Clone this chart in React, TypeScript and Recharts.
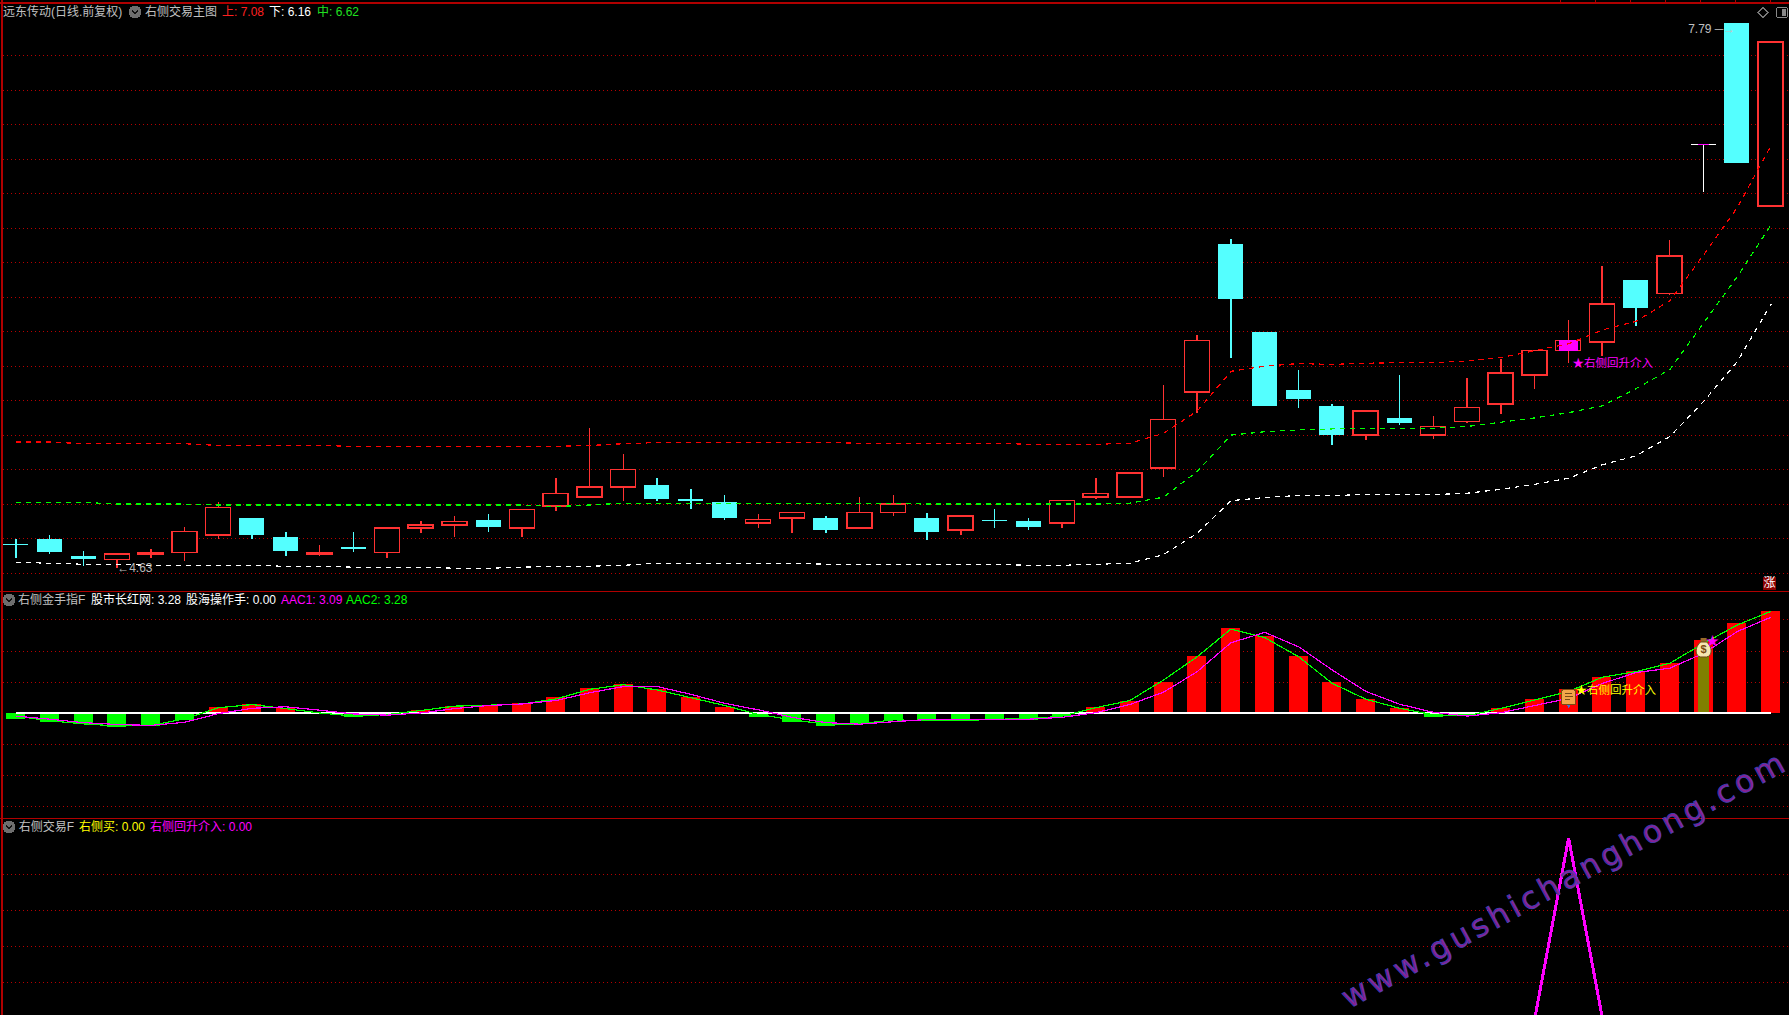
import {
  Bar,
  CartesianGrid,
  Cell,
  ComposedChart,
  Line,
  ReferenceDot,
  ReferenceLine,
  XAxis,
  YAxis,
} from "recharts";

// daily candles
const opens = [4.77, 4.8, 4.7, 4.68, 4.71, 4.72, 4.82, 4.92, 4.81, 4.71, 4.75, 4.72, 4.86, 4.88, 4.91, 4.86, 4.99, 5.04, 5.1, 5.11, 5.03, 5.01, 4.89, 4.92, 4.92, 4.86, 4.95, 4.92, 4.85, 4.91, 4.9, 4.89, 5.04, 5.04, 5.21, 5.65, 6.51, 6.0, 5.66, 5.57, 5.4, 5.5, 5.4, 5.48, 5.58, 5.75, 5.89, 5.94, 6.3, 6.22, 7.08, 7.79, 6.73];
const highs = [4.8, 4.82, 4.73, 4.71, 4.74, 4.87, 5.01, 4.92, 4.84, 4.76, 4.84, 4.87, 4.9, 4.93, 4.94, 4.97, 5.15, 5.44, 5.29, 5.15, 5.09, 5.05, 4.94, 4.95, 4.93, 5.04, 5.05, 4.95, 4.93, 4.97, 4.92, 5.02, 5.15, 5.18, 5.69, 5.98, 6.54, 6.0, 5.78, 5.58, 5.54, 5.75, 5.51, 5.73, 5.84, 5.89, 6.07, 6.38, 6.3, 6.53, 7.08, 7.79, 7.68];
const lows = [4.69, 4.71, 4.64, 4.63, 4.69, 4.67, 4.8, 4.8, 4.7, 4.7, 4.72, 4.69, 4.83, 4.81, 4.84, 4.81, 4.96, 5.04, 5.02, 5.02, 4.97, 4.91, 4.86, 4.83, 4.83, 4.86, 4.93, 4.79, 4.82, 4.86, 4.85, 4.86, 5.03, 5.04, 5.16, 5.53, 5.85, 5.57, 5.56, 5.34, 5.37, 5.46, 5.38, 5.47, 5.52, 5.67, 5.82, 5.86, 6.03, 6.21, 6.81, 6.98, 6.73];
const closes = [4.76, 4.72, 4.68, 4.71, 4.72, 4.84, 4.98, 4.82, 4.73, 4.72, 4.74, 4.86, 4.88, 4.9, 4.87, 4.97, 5.06, 5.1, 5.2, 5.03, 5.02, 4.92, 4.91, 4.95, 4.85, 4.95, 5.0, 4.84, 4.93, 4.9, 4.87, 5.02, 5.06, 5.18, 5.49, 5.95, 6.19, 5.57, 5.61, 5.4, 5.54, 5.47, 5.45, 5.56, 5.76, 5.89, 5.95, 6.16, 6.14, 6.44, 7.08, 6.98, 7.68];

// 上 / 中 / 下 channel
const upper = [5.36, 5.36, 5.35, 5.35, 5.35, 5.35, 5.34, 5.34, 5.34, 5.34, 5.335, 5.335, 5.335, 5.335, 5.335, 5.335, 5.335, 5.34, 5.35, 5.357, 5.357, 5.357, 5.357, 5.357, 5.357, 5.353, 5.353, 5.353, 5.353, 5.353, 5.347, 5.347, 5.347, 5.353, 5.41, 5.54, 5.77, 5.8, 5.815, 5.81, 5.817, 5.82, 5.82, 5.83, 5.85, 5.89, 5.93, 6.01, 6.06, 6.18, 6.445, 6.72, 7.08];
const middle = [5.01, 5.01, 5.01, 5.0, 5.0, 5.0, 4.995, 4.995, 4.995, 4.995, 4.995, 4.995, 4.995, 4.995, 4.995, 4.995, 4.985, 4.995, 5.005, 5.005, 5.005, 5.005, 5.005, 5.005, 5.005, 5.005, 5.005, 5.0, 5.0, 5.0, 5.0, 5.0, 5.0, 5.005, 5.04, 5.19, 5.4, 5.42, 5.43, 5.436, 5.438, 5.438, 5.44, 5.45, 5.475, 5.5, 5.53, 5.57, 5.67, 5.78, 6.05, 6.32, 6.62];
const lower = [4.663, 4.657, 4.651, 4.651, 4.645, 4.645, 4.645, 4.645, 4.639, 4.639, 4.634, 4.634, 4.634, 4.628, 4.628, 4.634, 4.64, 4.64, 4.645, 4.657, 4.657, 4.657, 4.657, 4.657, 4.651, 4.651, 4.651, 4.651, 4.651, 4.651, 4.645, 4.645, 4.651, 4.657, 4.707, 4.831, 5.02, 5.038, 5.05, 5.05, 5.055, 5.055, 5.055, 5.063, 5.086, 5.115, 5.15, 5.228, 5.28, 5.392, 5.595, 5.827, 6.16];

// 右侧金手指F
const histogram = [-0.17, -0.27, -0.35, -0.44, -0.4, -0.21, 0.2, 0.3, 0.17, -0.03, -0.12, -0.05, 0.1, 0.22, 0.26, 0.33, 0.52, 0.81, 0.94, 0.78, 0.53, 0.2, -0.12, -0.28, -0.4, -0.34, -0.21, -0.24, -0.25, -0.21, -0.21, -0.1, 0.2, 0.41, 1.01, 1.84, 2.74, 2.47, 1.84, 1.01, 0.46, 0.18, -0.12, -0.08, 0.16, 0.46, 0.77, 1.16, 1.35, 1.61, 2.36, 2.9, 3.28];
const aac1 = [-0.09, -0.19, -0.3, -0.36, -0.39, -0.29, -0.01, 0.16, 0.21, 0.1, -0.02, -0.06, 0.01, 0.15, 0.25, 0.3, 0.41, 0.66, 0.86, 0.86, 0.61, 0.32, 0.11, -0.13, -0.3, -0.35, -0.27, -0.2, -0.2, -0.2, -0.19, -0.13, 0.02, 0.28, 0.68, 1.34, 2.27, 2.6, 2.14, 1.39, 0.7, 0.29, 0.03, -0.09, 0.02, 0.25, 0.48, 0.96, 1.31, 1.45, 1.93, 2.63, 3.09];
const aac2 = [-0.09, -0.24, -0.34, -0.41, -0.39, -0.18, 0.18, 0.28, 0.15, 0.01, -0.09, -0.04, 0.09, 0.23, 0.26, 0.3, 0.46, 0.77, 0.92, 0.75, 0.5, 0.25, -0.04, -0.21, -0.35, -0.34, -0.21, -0.24, -0.24, -0.19, -0.18, -0.09, 0.18, 0.41, 1.07, 1.82, 2.71, 2.43, 1.82, 0.96, 0.45, 0.16, -0.05, -0.08, 0.16, 0.43, 0.7, 1.16, 1.34, 1.61, 2.25, 2.84, 3.28];

// 右侧交易F, all zero except the one signal day
const rightEntry = [0, 0, 0, 0, 0, 0, 0, 0, 0, 0, 0, 0, 0, 0, 0, 0, 0, 0, 0, 0, 0, 0, 0, 0, 0, 0, 0, 0, 0, 0, 0, 0, 0, 0, 0, 0, 0, 0, 0, 0, 0, 0, 0, 0, 0, 0, 5, 0, 0, 0, 0, 0, 0];
const rightBuy = [0, 0, 0, 0, 0, 0, 0, 0, 0, 0, 0, 0, 0, 0, 0, 0, 0, 0, 0, 0, 0, 0, 0, 0, 0, 0, 0, 0, 0, 0, 0, 0, 0, 0, 0, 0, 0, 0, 0, 0, 0, 0, 0, 0, 0, 0, 0, 0, 0, 0, 0, 0, 0];

const SIGNAL_DAY = 46;
const BUY_DAY = 50;
const BUY_BAR = 1.87;

const priceGrid = [7.6, 7.4, 7.2, 7.0, 6.8, 6.6, 6.4, 6.2, 6.0, 5.8, 5.6, 5.4, 5.2, 5.0, 4.8, 4.6];
const oscGrid = [3, 2, 1, -1, -2, -3];
const tradeGrid = [4, 3, 2, 1];

const candles = opens.map((open, i) => ({
  i,
  open,
  high: highs[i],
  low: lows[i],
  close: closes[i],
  upper: upper[i],
  middle: middle[i],
  lower: lower[i],
}));
const oscRows = histogram.map((value, i) => ({
  i,
  value,
  aac1: aac1[i],
  aac2: aac2[i],
  buy: i === BUY_DAY ? BUY_BAR : null,
}));
const tradeRows = rightEntry.map((entry, i) => ({ i, entry, buy: rightBuy[i] }));

const RED = "#ff3232";
const CYAN = "#54ffff";
const GRID = "#b80000";
const FRAME = "#b00000";
const FONT = '"Liberation Sans", "Noto Sans CJK SC", sans-serif';

const W = 1789;
const OFFSET = -1.4;
const margin = { top: 0, right: 0, bottom: 0, left: 0 };

function candleColor(d: { open: number; close: number }) {
  if (d.close > d.open) return RED;
  if (d.close < d.open) return CYAN;
  return "#ffffff";
}

function Chevron({ x, y }: { x: number; y: number }) {
  return (
    <svg width={14} height={14} style={{ position: "absolute", left: x - 7, top: y - 7 }}>
      <circle cx={7} cy={7} r={6.5} fill="#6e6e6e" />
      <path d="M4 5.5 L7 8.5 L10 5.5" fill="none" stroke="#111" strokeWidth={1.6} />
    </svg>
  );
}

function Txt({ x, y, color, size = 12, children }: { x: number; y: number; color: string; size?: number; children: string }) {
  return (
    <span
      style={{
        position: "absolute",
        left: x,
        top: y - 8,
        height: 16,
        lineHeight: "16px",
        fontSize: size,
        color,
        whiteSpace: "nowrap",
      }}
    >
      {children}
    </span>
  );
}

function ScrollIcon({ cx, cy }: { cx?: number; cy?: number }) {
  return (
    <g transform={`translate(${cx},${cy})`}>
      <path d="M-3 6 L0 10 L3 6 Z" fill="#3d6fd0" />
      <rect x={-7} y={-8} width={14} height={15} rx={2} fill="#f3a64a" stroke="#7a4a12" />
      <path d="M-4 -4 H3 M-4 -1 H4 M-4 2 H1" stroke="#7a4a12" strokeWidth={1.2} />
    </g>
  );
}

function MoneyBag({ cx, cy }: { cx?: number; cy?: number }) {
  return (
    <g transform={`translate(${cx},${cy})`} style={{ shapeRendering: "auto" }}>
      <rect x={-3} y={-10} width={6} height={4} fill="#9a6a2a" />
      <path d="M-3 -6 C-9 -1 -9 8 -3 9 H3 C9 8 9 -1 3 -6 Z" fill="#f6e7b0" stroke="#6b4a17" />
      <text x={0} y={5} textAnchor="middle" fontSize={11} fontWeight={700} fill="#7a4a12">
        $
      </text>
      <text x={9} y={-3} textAnchor="middle" fontSize={13} fill="#ff00ff">
        ★
      </text>
    </g>
  );
}

function SpikeChart() {
  return (
    <ComposedChart width={W} height={205} data={tradeRows} margin={margin}>
      <XAxis dataKey="i" hide padding={{ left: 16.88, right: 16.88 }} />
      <YAxis hide domain={[-0.139, 5.556]} />
      <CartesianGrid vertical={false} horizontalValues={tradeGrid} stroke={GRID} strokeDasharray="1 3" />
      <Line dataKey="buy" stroke="#ffff00" strokeWidth={1.5} dot={false} isAnimationActive={false} />
      <Line dataKey="entry" stroke="#ff00ff" strokeWidth={3} dot={false} isAnimationActive={false} />
    </ComposedChart>
  );
}

function OscChart() {
  return (
    <ComposedChart width={W} height={227} data={oscRows} margin={margin}>
      <XAxis dataKey="i" hide />
      <XAxis dataKey="i" xAxisId="buy" hide />
      <YAxis hide domain={[-3.367, 3.932]} />
      <CartesianGrid vertical={false} horizontalValues={oscGrid} stroke={GRID} strokeDasharray="1 3" />
      <Bar dataKey="value" barSize={19} isAnimationActive={false}>
        {oscRows.map((d) => (
          <Cell key={d.i} fill={d.value >= 0 ? "#ff0000" : "#00ff00"} />
        ))}
      </Bar>
      <Bar dataKey="buy" xAxisId="buy" barSize={11} fill="#808000" isAnimationActive={false} />
      <ReferenceLine segment={[{ x: 0, y: 0 }, { x: 52, y: 0 }]} stroke="#ffffff" strokeWidth={1.6} />
      <Line dataKey="aac2" stroke="#00ff00" strokeWidth={1.2} dot={false} isAnimationActive={false} />
      <Line dataKey="aac1" stroke="#ff00ff" strokeWidth={1.2} dot={false} isAnimationActive={false} />
      <ReferenceDot x={SIGNAL_DAY} y={0.5} r={0} shape={ScrollIcon} />
      <ReferenceDot x={BUY_DAY} y={2.1} r={0} shape={MoneyBag} />
      <ReferenceDot
        x={SIGNAL_DAY}
        y={0.75}
        r={0}
        label={{ value: "★右侧回升介入", position: "right", offset: 7, fill: "#ffff00", fontSize: 11.5 }}
      />
    </ComposedChart>
  );
}

function PriceChart() {
  return (
    <ComposedChart width={W} height={588} data={candles} margin={margin}>
      <XAxis dataKey="i" hide />
      <XAxis dataKey="i" xAxisId="wick" hide />
      <XAxis dataKey="i" xAxisId="body" hide />
      <XAxis dataKey="i" xAxisId="fill" hide />
      <XAxis dataKey="i" xAxisId="tick" hide />
      <YAxis hide domain={[4.496, 7.906]} />
      <CartesianGrid vertical={false} horizontalValues={priceGrid} stroke={GRID} strokeDasharray="1 3" />
      <Line dataKey="upper" stroke="#ff0000" strokeWidth={1.2} strokeDasharray="5 5" dot={false} isAnimationActive={false} />
      <Line dataKey="middle" stroke="#00ff00" strokeWidth={1.2} strokeDasharray="5 5" dot={false} isAnimationActive={false} />
      <Line dataKey="lower" stroke="#ffffff" strokeWidth={1.2} strokeDasharray="5 5" dot={false} isAnimationActive={false} />
      <Bar dataKey={(d: any) => [d.low, d.high]} xAxisId="wick" barSize={1.5} isAnimationActive={false}>
        {candles.map((d) => (
          <Cell key={d.i} fill={candleColor(d)} />
        ))}
      </Bar>
      <Bar
        dataKey={(d: any) => [Math.min(d.open, d.close), Math.max(d.open, d.close) + (d.open === d.close ? 0.009 : 0)]}
        xAxisId="body"
        barSize={25}
        isAnimationActive={false}
      >
        {candles.map((d) => {
          const up = d.close > d.open;
          const color = candleColor(d);
          return <Cell key={d.i} fill={up ? "#000000" : color} stroke={up ? RED : color} strokeWidth={up ? 1.5 : 0} />;
        })}
      </Bar>
      <Bar
        dataKey={(d: any) => (d.i === SIGNAL_DAY ? [d.open, d.close] : null)}
        xAxisId="fill"
        barSize={19}
        fill="#ff00ff"
        isAnimationActive={false}
      />
      <Bar
        dataKey={(d: any) => (d.i === BUY_DAY ? [d.close, d.close + 0.009] : null)}
        xAxisId="tick"
        barSize={11}
        fill="#ff00ff"
        isAnimationActive={false}
      />
      <ReferenceDot
        x={3}
        y={4.63}
        r={0}
        label={{ value: "←4.63", position: "right", offset: 0, fill: "#b8b8b8", fontSize: 12 }}
      />
      <ReferenceDot
        x={51}
        y={7.755}
        r={0}
        label={{ value: "7.79 ─→", position: "left", offset: 2, fill: "#c0c0c0", fontSize: 12 }}
      />
      <ReferenceDot
        x={SIGNAL_DAY}
        y={5.82}
        r={0}
        label={{ value: "★右侧回升介入", position: "right", offset: 4, fill: "#ff00ff", fontSize: 11.5 }}
      />
    </ComposedChart>
  );
}

export default function App() {
  return (
    <div
      style={{
        position: "fixed",
        left: 0,
        top: 0,
        width: W,
        height: 1015,
        overflow: "hidden",
        background: "#000",
        fontFamily: FONT,
        shapeRendering: "crispEdges",
      }}
    >
      <div style={{ position: "absolute", left: OFFSET, top: 3 }}>
        <PriceChart />
      </div>
      <div style={{ position: "absolute", left: OFFSET, top: 591 }}>
        <OscChart />
      </div>
      <div style={{ position: "absolute", left: OFFSET, top: 818 }}>
        <SpikeChart />
      </div>

      {/* frame */}
      <div style={{ position: "absolute", left: 0, top: 2, width: W, height: 1.5, background: FRAME }} />
      <div style={{ position: "absolute", left: 1, top: 0, width: 1.5, height: 1015, background: FRAME }} />
      <div style={{ position: "absolute", left: 0, top: 591, width: W, height: 1, background: FRAME }} />
      <div style={{ position: "absolute", left: 0, top: 818, width: W, height: 1, background: FRAME }} />
      <div
        style={{
          position: "absolute",
          left: 1560,
          top: 0,
          width: 229,
          height: 2,
          background: `repeating-linear-gradient(90deg, ${FRAME} 0 1px, transparent 1px 35px)`,
        }}
      />

      {/* header rows */}
      <Txt x={3} y={12} color="#c0c0c0">远东传动(日线.前复权)</Txt>
      <Chevron x={135} y={12} />
      <Txt x={145} y={12} color="#c0c0c0">右侧交易主图</Txt>
      <Txt x={222} y={12} color="#ff2020">上: 7.08</Txt>
      <Txt x={269} y={12} color="#ffffff">下: 6.16</Txt>
      <Txt x={317} y={12} color="#20e020">中: 6.62</Txt>

      <Chevron x={8.5} y={600} />
      <Txt x={18} y={600} color="#c0c0c0">右侧金手指F</Txt>
      <Txt x={91} y={600} color="#ffffff">股市长红网: 3.28</Txt>
      <Txt x={186} y={600} color="#ffffff">股海操作手: 0.00</Txt>
      <Txt x={281} y={600} color="#ff00ff">AAC1: 3.09</Txt>
      <Txt x={346} y={600} color="#00ff00">AAC2: 3.28</Txt>

      <Chevron x={8.7} y={827} />
      <Txt x={18.7} y={827} color="#c0c0c0">右侧交易F</Txt>
      <Txt x={79} y={827} color="#ffff00">右侧买: 0.00</Txt>
      <Txt x={150} y={827} color="#ff00ff">右侧回升介入: 0.00</Txt>

      {/* corner widgets */}
      <svg width={40} height={16} style={{ position: "absolute", left: 1749, top: 5 }}>
        <path d="M14 2.5 L19 7.5 L14 12.5 L9 7.5 Z" fill="none" stroke="#777" />
        <rect x={27.5} y={2.5} width={11} height={10} rx={2} fill="none" stroke="#888" />
        <rect x={33} y={4} width={4} height={7} fill="#888" />
      </svg>
      <div
        style={{
          position: "absolute",
          left: 1763,
          top: 577,
          width: 13,
          height: 13,
          lineHeight: "13px",
          textAlign: "center",
          fontSize: 12,
          color: "#fff",
          background: "#8b0000",
        }}
      >
        涨
      </div>

      {/* watermark */}
      <svg width={W} height={1015} style={{ position: "absolute", left: 0, top: 0, shapeRendering: "auto" }}>
        <text
          transform="translate(1349,1009) rotate(-28.6)"
          fontFamily='"DejaVu Sans"'
          fontSize={31}
          textLength={499}
          fill="#8a2090"
          stroke="#4040b8"
          strokeWidth={0.8}
        >
          www.gushichanghong.com
        </text>
      </svg>
    </div>
  );
}
